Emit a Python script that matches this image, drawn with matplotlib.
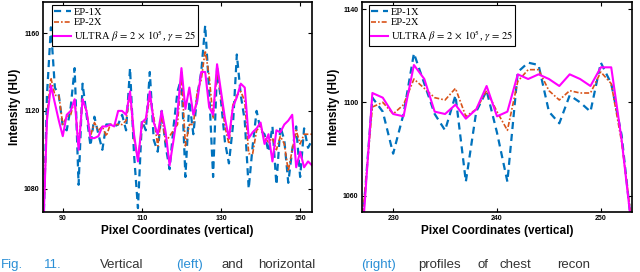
import numpy as np
import matplotlib
matplotlib.use("Agg")
import matplotlib.pyplot as plt

plt.rcParams["mathtext.fontset"] = "stix"

# vertical profile (left)
x_left = np.arange(85, 154)
ep1_left = [1050, 1128, 1163, 1132, 1128, 1112, 1110, 1122, 1142, 1082,
            1134, 1118, 1102, 1117, 1108, 1100, 1113, 1113, 1112, 1113,
            1118, 1110, 1142, 1098, 1070, 1115, 1110, 1140, 1105, 1099,
            1120, 1102, 1090, 1112, 1130, 1137, 1086, 1125, 1108, 1128,
            1140, 1164, 1130, 1086, 1142, 1125, 1104, 1093, 1112, 1149,
            1128, 1115, 1080, 1102, 1120, 1110, 1108, 1099, 1112, 1082,
            1112, 1105, 1083, 1100, 1112, 1086, 1111, 1101, 1105]
ep2_left = [1055, 1118, 1137, 1128, 1128, 1113, 1117, 1118, 1126, 1102,
            1126, 1120, 1107, 1114, 1110, 1112, 1107, 1113, 1113, 1113,
            1113, 1115, 1129, 1106, 1095, 1112, 1115, 1127, 1117, 1102,
            1118, 1104, 1107, 1110, 1113, 1140, 1102, 1113, 1113, 1130,
            1136, 1151, 1138, 1116, 1141, 1128, 1112, 1103, 1123, 1128,
            1130, 1125, 1098, 1098, 1110, 1112, 1106, 1104, 1106, 1100,
            1107, 1103, 1089, 1100, 1110, 1103, 1108, 1108, 1108]
ultra_left = [1055, 1115, 1133, 1124, 1115, 1107, 1118, 1120, 1126, 1100,
              1126, 1120, 1106, 1106, 1107, 1112, 1112, 1113, 1112, 1120,
              1120, 1118, 1130, 1108, 1094, 1114, 1116, 1130, 1114, 1108,
              1120, 1109, 1092, 1105, 1119, 1142, 1121, 1132, 1118, 1125,
              1140, 1140, 1122, 1118, 1144, 1130, 1116, 1106, 1122, 1127,
              1134, 1132, 1106, 1109, 1111, 1114, 1103, 1108, 1094, 1110,
              1109, 1113, 1115, 1118, 1091, 1099, 1091, 1094, 1092]

# horizontal profile (right)
x_right = np.arange(227, 254)
ep1_right = [1045, 1102, 1096, 1078, 1095, 1121, 1108, 1095, 1088, 1103,
             1066, 1096, 1105, 1087, 1066, 1113, 1117, 1116, 1096, 1091,
             1103, 1100, 1096, 1117, 1108, 1086, 1045]
ep2_right = [1048, 1098, 1100, 1095, 1099, 1110, 1106, 1102, 1101, 1106,
             1094, 1097, 1105, 1096, 1088, 1109, 1114, 1114, 1105, 1101,
             1105, 1104, 1104, 1113, 1108, 1083, 1048]
ultra_right = [1040, 1104, 1102, 1095, 1094, 1116, 1110, 1096, 1095, 1099,
               1093, 1097, 1107, 1094, 1096, 1112, 1110, 1112, 1110, 1107,
               1112, 1110, 1107, 1115, 1115, 1084, 1045]

labels = ["EP-1X", "EP-2X",
          r"ULTRA $\beta\,=\,2\,\times\,10^5$, $\gamma\,=\,25$"]


def draw(ax, x, ep1, ep2, ultra, xlim, ylim, xticks, yticks, leg_x):
    ax.plot(x, ep1, color="#0072BD", linestyle=(0, (3.2, 2.2)), linewidth=1.6, label=labels[0])
    ax.plot(x, ep2, color="#D95319", linestyle=(0, (3, 1.2, 1, 1.2)), linewidth=1.2, label=labels[1])
    ax.plot(x, ultra, color="#FF00FF", linewidth=1.5, label=labels[2])
    ax.set_xlim(*xlim)
    ax.set_ylim(*ylim)
    ax.set_xticks(xticks)
    ax.set_yticks(yticks)
    ax.tick_params(direction="in", top=True, right=True, length=3, width=0.8,
                   labelsize=5, pad=2.5)
    for lab in ax.get_xticklabels() + ax.get_yticklabels():
        lab.set_fontweight("bold")
        lab.set_family("Liberation Sans")
    for sp in ax.spines.values():
        sp.set_linewidth(1.2)
    ax.set_xlabel("Pixel Coordinates (vertical)", fontsize=8.5, fontweight="bold",
                  family="Liberation Sans", labelpad=2)
    ax.set_ylabel("Intensity (HU)", fontsize=8.5, fontweight="bold",
                  family="Liberation Sans", labelpad=2)
    leg = ax.legend(loc="upper left", bbox_to_anchor=(leg_x, 0.985), fancybox=False,
                    framealpha=1, edgecolor="black",
                    prop={"family": "Liberation Serif", "size": 7.6}, handlelength=1.6,
                    handletextpad=0.25, borderpad=0.2, labelspacing=0.12,
                    borderaxespad=0)
    leg.get_frame().set_linewidth(0.8)


fig = plt.figure(figsize=(6.4, 2.72), dpi=100)
ax1 = fig.add_axes([43 / 640, 60 / 272, 269 / 640, 210 / 272])
ax2 = fig.add_axes([362 / 640, 60 / 272, 270 / 640, 210 / 272])
draw(ax1, x_left, ep1_left, ep2_left, ultra_left, (85, 153), (1068, 1176),
     [90, 110, 130, 150], [1080, 1120, 1160], 9 / 269)
draw(ax2, x_right, ep1_right, ep2_right, ultra_right, (227, 253), (1053, 1143),
     [230, 240, 250], [1060, 1100, 1140], 7 / 270)

# caption along the bottom edge
blue = "#2a8fd6"
grey = "#333333"
caption = [("Fig.", 1, blue), ("11.", 44, blue), ("Vertical", 100, grey),
           ("(left)", 176, blue), ("and", 222, grey), ("horizontal", 258, grey),
           ("(right)", 361, blue), ("profiles", 418, grey), ("of", 478, grey),
           ("chest", 499, grey), ("recon", 557, grey)]
for word, px, col in caption:
    fig.text(px / 640, 4 / 272, word, color=col, fontsize=9.5, family="Liberation Sans",
             va="baseline", ha="left")

fig.savefig("out.png", dpi=100)
